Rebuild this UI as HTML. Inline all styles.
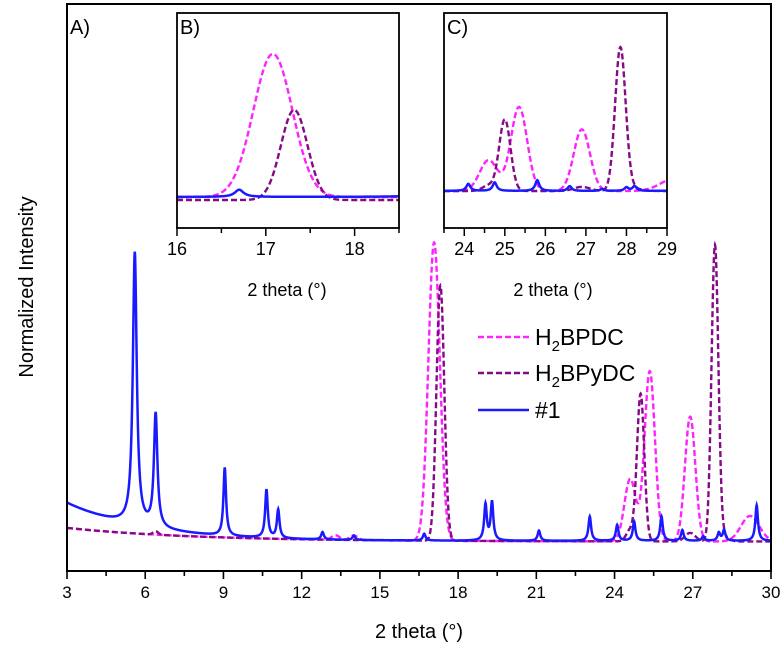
<!DOCTYPE html>
<html><head><meta charset="utf-8"><style>
html,body{margin:0;padding:0;background:#fff}
svg{display:block;font-family:"Liberation Sans",Arial,sans-serif}
</style></head><body>
<svg id="chart" width="784" height="651" viewBox="0 0 784 651">
<defs>
<clipPath id="clipMain"><rect x="67" y="4" width="704" height="567"/></clipPath>
<clipPath id="clipB"><rect x="177" y="13" width="222" height="215"/></clipPath>
<clipPath id="clipC"><rect x="444" y="13" width="223" height="215"/></clipPath>
</defs>
<g id="main"></g>
</svg>
<script>
// ---- data ----
const blueCenters = [5.6, 6.4, 9.05, 10.65, 11.1, 12.8, 14.0, 16.7, 19.05, 19.3, 21.1, 23.05, 24.1, 24.75, 25.8, 26.6, 27.4, 28.0, 28.2, 29.45];
const blueHeights = [48, 20, 12, 8.5, 5, 1.3, 0.8, 1.2, 6.3, 6.8, 1.8, 4.3, 2.8, 3.4, 4.3, 1.9, 0.8, 1.4, 1.9, 6.3];
const blueWidths  = [0.09, 0.08, 0.06, 0.06, 0.06, 0.06, 0.06, 0.06, 0.06, 0.06, 0.06, 0.06, 0.06, 0.06, 0.06, 0.06, 0.06, 0.06, 0.06, 0.06];
const magCenters = [13.3, 14.0, 17.08, 24.6, 25.35, 26.9, 29.2];
const magHeights = [0.8, 0.8, 52.6, 11, 30, 22, 4.5];
const magSigmas  = [0.15, 0.15, 0.22, 0.22, 0.2, 0.2, 0.35];
const purCenters = [6.4, 17.32, 24.6, 25.0, 26.9, 27.85, 28.15];
const purHeights = [0.6, 45, 2, 26, 1.5, 52, 1];
const purSigmas  = [0.1, 0.15, 0.15, 0.14, 0.2, 0.13, 0.2];
const mainXTicks = [3, 6, 9, 12, 15, 18, 21, 24, 27, 30];
const insetBTicks = [16, 17, 18];
const insetCTicks = [24, 25, 26, 27, 28, 29];

// ---- model functions ----
function blueBase(x){return 5.3 + 6.7*Math.exp(-(x-3)/3);}
function dashBase(x){return 5.2 + 2.4*Math.exp(-(x-3)/5);}
function blueVal(x){let v=blueBase(x);for(let i=0;i<blueCenters.length;i++){const d=(x-blueCenters[i])/blueWidths[i];v+=blueHeights[i]/(1+d*d);}return v;}
function gaussSum(x,c,h,s){let v=0;for(let i=0;i<c.length;i++){const d=(x-c[i])/s[i];v+=h[i]*Math.exp(-0.5*d*d);}return v;}
function magVal(x){return dashBase(x)+gaussSum(x,magCenters,magHeights,magSigmas);}
function purVal(x){return dashBase(x)+gaussSum(x,purCenters,purHeights,purSigmas);}

const NS='http://www.w3.org/2000/svg';
const svg=document.getElementById('chart');
function mk(tag,attrs,parent){const e=document.createElementNS(NS,tag);for(const k in attrs)e.setAttribute(k,attrs[k]);(parent||svg).appendChild(e);return e;}

const MX0=67,MX1=771,MY0=4,MY1=571;
const xMain=x=>MX0+(x-3)/(27)*(MX1-MX0);
const yMain=v=>MY1-v*(MY1-MY0)/100;

function drawSeries(fn,x0,x1,xs,ys,attrs,name,clip){
  let d='';for(let x=x0;x<=x1+1e-9;x+=0.01){d+=(d?'L':'M')+xs(x).toFixed(2)+','+ys(fn(x),x).toFixed(2);}
  const p=mk('path',Object.assign({d:d,fill:'none','clip-path':clip},attrs));
  
  
  return p;
}
const magA={stroke:'#ff22ff','stroke-width':2.4,'stroke-dasharray':'6 3'};
const purA={stroke:'#850a85','stroke-width':2.4,'stroke-dasharray':'6 3'};
const bluA={stroke:'#1a1aff','stroke-width':2.5};

drawSeries(magVal,3,30,xMain,yMain,magA,'h2bpdc-line','url(#clipMain)');
drawSeries(purVal,3,30,xMain,yMain,purA,'h2bpydc-line','url(#clipMain)');
drawSeries(blueVal,3,30,xMain,yMain,bluA,'sample-1-line','url(#clipMain)');

const frame=mk('rect',{x:MX0,y:MY0,width:MX1-MX0,height:MY1-MY0,fill:'none',stroke:'#000','stroke-width':2});


for(let t=3;t<=30;t+=1.5){const X=xMain(t);const major=(t%3===0);
  const tk=mk('line',{x1:X,x2:X,y1:MY1,y2:MY1+(major?8:5),stroke:'#000','stroke-width':1.6});
  
  }
mainXTicks.forEach(t=>{const tx=mk('text',{x:xMain(t),y:598,'text-anchor':'middle','font-size':17});tx.textContent=t;
  
  });
let el=mk('text',{x:419,y:638,'text-anchor':'middle','font-size':20});el.textContent='2 theta (°)';


el=mk('text',{x:0,y:0,'text-anchor':'middle','font-size':20,transform:'translate(33,287) rotate(-90)'});el.textContent='Normalized Intensity';


el=mk('text',{x:70,y:34,'font-size':20});el.textContent='A)';



function inset(name,label,X0,X1,Y0,Y1,d0,d1,ticks,minorStep,base,k,offs,axLabelX){
  const g=mk('g',{});
  
  
  mk('rect',{x:X0,y:Y0,width:X1-X0,height:Y1-Y0,fill:'#fff'},g);
  const xs=x=>X0+(x-d0)/(d1-d0)*(X1-X0);
  const clip='url(#'+(name==='inset-b'?'clipB':'clipC')+')';
  const series=[[magVal,dashBase,magA,'h2bpdc',0],[purVal,dashBase,purA,'h2bpydc',1],[blueVal,blueBase,bluA,'sample-1',2]];
  series.forEach(s=>{
    const p=drawSeries(s[0],d0,d1,xs,(v,x)=>base+offs[s[4]]-(v-s[1](x))*k[s[4]],s[2],name+'-'+s[3]+'-line',clip);
    g.appendChild(p);
  });
  const fr=mk('rect',{x:X0,y:Y0,width:X1-X0,height:Y1-Y0,fill:'none',stroke:'#000','stroke-width':1.8},g);
  
  
  for(let t=Math.ceil(d0/minorStep)*minorStep;t<=d1+1e-9;t+=minorStep){const major=Math.abs(t-Math.round(t))<1e-6;
    const tk=mk('line',{x1:xs(t),x2:xs(t),y1:Y1,y2:Y1+(major?8:5),stroke:'#000','stroke-width':1.5},g);
    
    }
  ticks.forEach(t=>{const tx=mk('text',{x:xs(t),y:255,'text-anchor':'middle','font-size':18},g);tx.textContent=t;
    
    });
  const at=mk('text',{x:axLabelX,y:296,'text-anchor':'middle','font-size':18},g);at.textContent='2 theta (°)';
  
  
  const lb=mk('text',{x:X0+3,y:Y0+21,'font-size':20},g);lb.textContent=label;
  
  
}
inset('inset-b','B)',177,399,13,228,16,18.5,insetBTicks,0.5,197,[2.72,2.0,6],[0,3,0],287);
inset('inset-c','C)',444,667,13,228,23.5,29,insetCTicks,0.5,191,[2.8,2.75,2.5],[0,0,0],553);

const lg=mk('g',{});


const legendItems=[['H','2','BPDC',magA,337,'legend-entry-h2bpdc'],['H','2','BPyDC',purA,373,'legend-entry-h2bpydc'],['#1','','',bluA,410,'legend-entry-sample-1']];
legendItems.forEach(it=>{
  const row=mk('g',{},lg);
  
  
  mk('line',Object.assign({x1:478,x2:529,y1:it[4],y2:it[4]},it[3]),row);
  const t=mk('text',{x:535,y:it[4]+8,'font-size':23},row);
  t.appendChild(document.createTextNode(it[0]));
  if(it[1]){const s=mk('tspan',{dy:6,'font-size':15},t);s.textContent=it[1];
    const r=mk('tspan',{dy:-6},t);r.textContent=it[2];}
});
</script>
</body></html>
